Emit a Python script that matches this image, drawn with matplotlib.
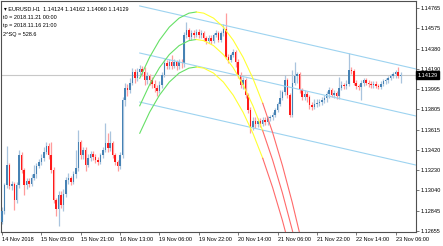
import matplotlib
matplotlib.use('Agg')
import matplotlib.pyplot as plt
import matplotlib.transforms as mtransforms

plt.rcParams['font.family'] = ['Liberation Sans', 'DejaVu Sans']

# EURUSD H1 bars (bar 0 = 14 Nov 13:00)
first_open = 1.1274
closes = [
    1.1284, 1.1309, 1.1328, 1.1308, 1.1310, 1.1295, 1.1309, 1.1337, 1.1323, 1.1309,
    1.1313, 1.1310, 1.1316, 1.1319, 1.1327, 1.1331, 1.1335, 1.1340, 1.1346, 1.1337,
    1.1323, 1.1295, 1.1286, 1.1300, 1.1290, 1.1301, 1.1314, 1.1316, 1.1312, 1.1319,
    1.1325, 1.1350, 1.1337, 1.1342, 1.1328, 1.1335, 1.1338, 1.1336, 1.1333, 1.1331,
    1.1337, 1.1342, 1.1349, 1.1344, 1.1349, 1.1337, 1.1331, 1.1327, 1.1337, 1.1389,
    1.1401, 1.1399, 1.1406, 1.1416, 1.1410, 1.1416, 1.1419, 1.1416, 1.1408, 1.1412,
    1.1408, 1.1405, 1.1401, 1.1398, 1.1404, 1.1413, 1.1424, 1.1422, 1.1425, 1.1422,
    1.1425, 1.1422, 1.1425, 1.1424, 1.1451, 1.1456, 1.1449, 1.1453, 1.1451, 1.1454,
    1.1451, 1.1453, 1.1448, 1.1445, 1.1448, 1.1445, 1.1451, 1.1453, 1.1446, 1.1453,
    1.1457, 1.1430, 1.1427, 1.1432, 1.1435, 1.1425, 1.1413, 1.1404, 1.1408, 1.1394,
    1.1380, 1.1364, 1.1370, 1.1367, 1.1370, 1.1367, 1.1371, 1.1369, 1.1372, 1.1373,
    1.1375, 1.1380, 1.1386, 1.1391, 1.1397, 1.1408, 1.1394, 1.1375, 1.1406, 1.1412,
    1.1414, 1.1399, 1.1392, 1.1395, 1.1392, 1.1385, 1.1383, 1.1386, 1.1387, 1.1388,
    1.1389, 1.1391, 1.1395, 1.1399, 1.1394, 1.1396, 1.1393, 1.1401, 1.1404, 1.1403,
    1.1405, 1.1418, 1.1417, 1.1406, 1.1403, 1.1402, 1.1406, 1.1408, 1.1406, 1.1405,
    1.1404, 1.1405, 1.1403, 1.1402, 1.1405, 1.1407, 1.1408, 1.1410, 1.1412, 1.1414,
    1.1416, 1.14124, 1.14129]
highs = [
    1.1288, 1.1311, 1.1346, 1.1330, 1.1313, 1.1312, 1.1312, 1.1342, 1.1340, 1.1325,
    1.1316, 1.1316, 1.1319, 1.1328, 1.1330, 1.1334, 1.1338, 1.1345, 1.1350, 1.1349,
    1.1350, 1.1326, 1.1297, 1.1303, 1.1303, 1.1305, 1.1317, 1.1320, 1.1318, 1.1322,
    1.1342, 1.1361, 1.1352, 1.1345, 1.1345, 1.1338, 1.1341, 1.1341, 1.1338, 1.1336,
    1.1339, 1.1345, 1.1368, 1.1358, 1.1360, 1.1351, 1.1339, 1.1333, 1.1340, 1.1392,
    1.1406, 1.1405, 1.1410, 1.1420, 1.1419, 1.1420, 1.1423, 1.1422, 1.1421, 1.1416,
    1.1414, 1.1411, 1.1408, 1.1404, 1.1407, 1.1416, 1.1428, 1.1427, 1.1428, 1.1432,
    1.1428, 1.1427, 1.1428, 1.1428, 1.1454, 1.1463, 1.1458, 1.1456, 1.1456, 1.1457,
    1.1457, 1.1456, 1.1455, 1.1450, 1.1451, 1.1451, 1.1453, 1.1456, 1.1455, 1.1455,
    1.1461, 1.1472, 1.1433, 1.1434, 1.1438, 1.1437, 1.1428, 1.1416, 1.1411, 1.1410,
    1.1396, 1.1383, 1.1373, 1.1373, 1.1372, 1.1372, 1.1373, 1.1373, 1.1374, 1.1375,
    1.1378, 1.1382, 1.1388, 1.1399, 1.1399, 1.1413, 1.1410, 1.1396, 1.1418, 1.1425,
    1.1416, 1.1416, 1.1401, 1.1399, 1.1398, 1.1394, 1.1388, 1.1390, 1.1390, 1.1390,
    1.1392, 1.1394, 1.1398, 1.1402, 1.1401, 1.1399, 1.1398, 1.1411, 1.1407, 1.1406,
    1.1408, 1.1434, 1.1421, 1.1419, 1.1408, 1.1405, 1.1408, 1.1410, 1.1410, 1.1408,
    1.1407, 1.1407, 1.1407, 1.1405, 1.1407, 1.1409, 1.1410, 1.1412, 1.1414, 1.1416,
    1.1418, 1.1421, 1.14162]
lows = [
    1.1272, 1.1282, 1.1306, 1.1305, 1.1304, 1.1285, 1.1292, 1.1306, 1.1320, 1.1300,
    1.1305, 1.1307, 1.1308, 1.1314, 1.1316, 1.1325, 1.1328, 1.1332, 1.1338, 1.1334,
    1.1320, 1.1292, 1.1280, 1.1270, 1.1287, 1.1284, 1.1298, 1.1310, 1.1309, 1.1310,
    1.1316, 1.1322, 1.1334, 1.1334, 1.1322, 1.1326, 1.1332, 1.1333, 1.1330, 1.1328,
    1.1329, 1.1335, 1.1340, 1.1340, 1.1341, 1.1335, 1.1328, 1.1322, 1.1324, 1.1335,
    1.1384, 1.1393, 1.1396, 1.1404, 1.1406, 1.1407, 1.1413, 1.1412, 1.1404, 1.1405,
    1.1404, 1.1401, 1.1397, 1.1393, 1.1396, 1.1401, 1.1411, 1.1419, 1.1419, 1.1419,
    1.1420, 1.1418, 1.1419, 1.1420, 1.1421, 1.1448, 1.1446, 1.1446, 1.1448, 1.1449,
    1.1448, 1.1448, 1.1445, 1.1442, 1.1443, 1.1442, 1.1443, 1.1449, 1.1444, 1.1444,
    1.1450, 1.1428, 1.1424, 1.1425, 1.1430, 1.1421, 1.1410, 1.1401, 1.1400, 1.1391,
    1.1377, 1.1358, 1.1361, 1.1363, 1.1364, 1.1364, 1.1365, 1.1366, 1.1366, 1.1370,
    1.1371, 1.1373, 1.1378, 1.1384, 1.1389, 1.1394, 1.1391, 1.1373, 1.1373, 1.1404,
    1.1406, 1.1396, 1.1389, 1.1389, 1.1388, 1.1381, 1.1380, 1.1381, 1.1383, 1.1384,
    1.1385, 1.1387, 1.1388, 1.1391, 1.1392, 1.1391, 1.1390, 1.1390, 1.1399, 1.1400,
    1.1400, 1.1403, 1.1414, 1.1404, 1.1400, 1.1399, 1.1389, 1.1403, 1.1404, 1.1402,
    1.1401, 1.1401, 1.1401, 1.1400, 1.1400, 1.1403, 1.1405, 1.1406, 1.1408, 1.1410,
    1.1410, 1.1410, 1.14060]
opens = [first_open] + closes[:-1]

tick_bars = [0, 16, 32, 48, 64, 80, 96, 112, 128, 144, 160]
tick_labels = ['14 Nov 2018', '15 Nov 05:00', '15 Nov 21:00', '16 Nov 13:00',
               '19 Nov 06:00', '19 Nov 22:00', '20 Nov 14:00', '21 Nov 06:00',
               '21 Nov 22:00', '22 Nov 14:00', '23 Nov 06:00']
price_ticks = [1.14765, 1.14575, 1.14380, 1.14190, 1.13995, 1.13805,
               1.13615, 1.13420, 1.13230, 1.13040, 1.12845, 1.12655]
last_price = 1.14129

# regression channel, anchored at tp (bar 56) and running to the right edge
chan_bars = [56, 168.5]
chan_top = [1.14784, 1.14187]
chan_mid = [1.14339, 1.13742]
chan_low = [1.13875, 1.13278]

# the three arcs: green up to the top, yellow until t0 (bar 106), red after
arc_bars = [56, 60, 64, 68, 72, 76, 79, 82, 86, 90, 94, 98, 102, 106, 110, 114, 118, 122]
arc_top = [1.14100, 1.14299, 1.14460, 1.14584, 1.14669, 1.14716, 1.14727, 1.14716, 1.14669,
           1.14584, 1.14460, 1.14299, 1.14100, 1.13863, 1.13588, 1.13275, 1.12925, 1.12536]
arc_mid = [1.13840, 1.14039, 1.14200, 1.14324, 1.14409, 1.14456, 1.14467, 1.14456, 1.14409,
           1.14324, 1.14200, 1.14039, 1.13840, 1.13603, 1.13328, 1.13015, 1.12665, 1.12276]
arc_low = [1.13580, 1.13779, 1.13940, 1.14064, 1.14149, 1.14196, 1.14207, 1.14196, 1.14149,
           1.14064, 1.13940, 1.13779, 1.13580, 1.13343, 1.13068, 1.12755, 1.12405, 1.12016]

bull_col = '#4682B4'
bear_col = '#FF1A1A'

fig = plt.figure(figsize=(4.43, 2.46), dpi=100)
ax = fig.add_axes([1 / 443, 1 - 232 / 246, 415 / 443, 231 / 246])

# grey line at the current price
ax.axhline(last_price, color='#C8C8C8', lw=0.8, zorder=1)

# candles
for i in range(len(closes)):
    o, c = opens[i], closes[i]
    col = bull_col if c >= o else bear_col
    wick = '#A9C4DE' if c >= o else '#FF9C9C'
    ax.vlines(i, lows[i], highs[i], color=wick, lw=0.9, zorder=2)
    ax.bar(i, max(abs(c - o), 0.00004), bottom=min(o, c), width=0.6,
           color=col, linewidth=0, zorder=3)

# channel
for ys in (chan_top, chan_mid, chan_low):
    ax.plot(chan_bars, ys, color='#9DD3F0', lw=0.8, zorder=4)

# arcs
for ys in (arc_top, arc_mid, arc_low):
    ax.plot(arc_bars[:7], ys[:7], color='#66E066', lw=0.8, zorder=4)
    ax.plot(arc_bars[6:14], ys[6:14], color='#FFFF33', lw=0.8, zorder=4)
    ax.plot(arc_bars[13:], ys[13:], color='#FF6A6A', lw=0.8, zorder=4)

ax.set_xlim(-0.4, 168.3)
ax.set_ylim(1.12646, 1.14831)

ax.yaxis.tick_right()
ax.set_yticks(price_ticks)
ax.set_yticklabels(['%.5f' % p for p in price_ticks])
ax.set_xticks(tick_bars)
ax.set_xticklabels(tick_labels, ha='left')
ax.tick_params(axis='both', labelsize=4.0, length=2, width=0.5, pad=1.5,
               color='#404040', direction='out')
for s in ax.spines.values():
    s.set_color('#505050')
    s.set_linewidth(0.8)

# price tag on the right axis
trans = mtransforms.blended_transform_factory(ax.transAxes, ax.transData)
ax.text(1.003, last_price, '1.14129', transform=trans, fontsize=4.0, color='white',
        va='center', ha='left', zorder=10,
        bbox=dict(boxstyle='square,pad=0.25', fc='black', ec='black'), clip_on=False)

# info text in the corner
info = ['\u25be EURUSD.H1  1.14124 1.14162 1.14060 1.14129',
        't0 = 2018.11.21 00:00',
        'tp = 2018.11.16 21:00',
        '2^SQ = 528.6']
for k, line in enumerate(info):
    ax.text(0.008 if k == 0 else 0.005, 0.975 - k * 0.036, line, transform=ax.transAxes,
            fontsize=4.0, va='top', ha='left', color='black')

fig.savefig('out.png', dpi=100, facecolor='white')
